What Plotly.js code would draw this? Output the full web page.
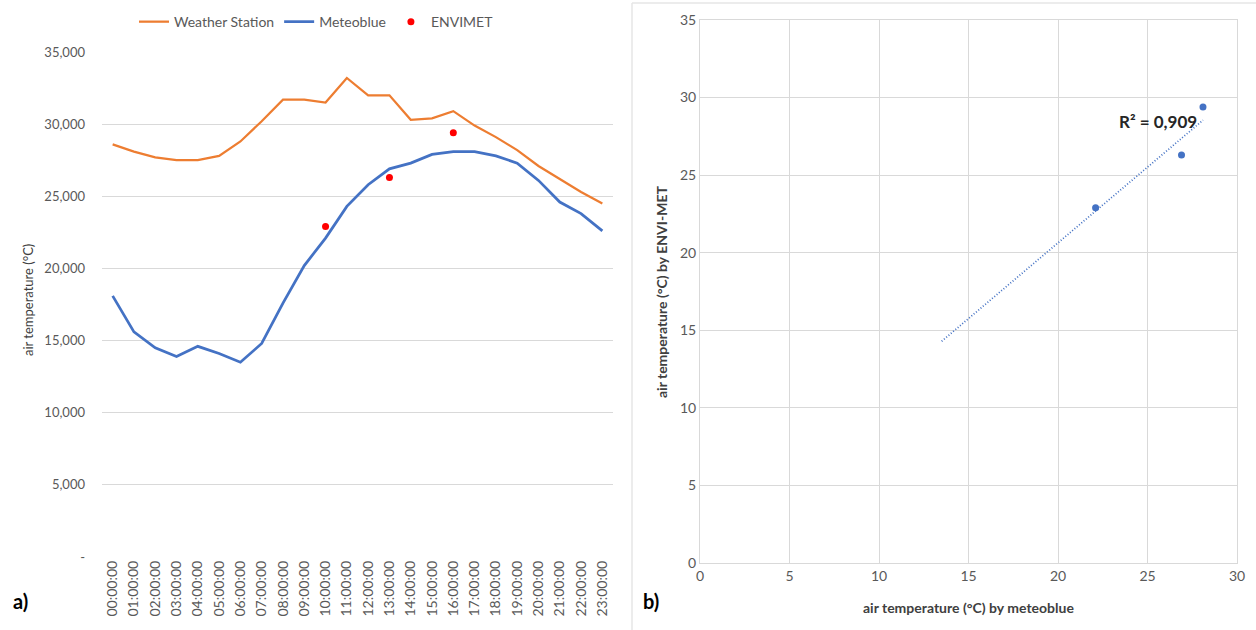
<!DOCTYPE html>
<html><head><meta charset="utf-8">
<script src="https://cdn.plot.ly/plotly-3.0.1.min.js"></script>
<style>html,body{margin:0;padding:0;background:#fff}#chart{width:1256px;height:630px}</style>
</head><body><div id="chart"></div>
<script>
const hours = ['00:00:00','01:00:00','02:00:00','03:00:00','04:00:00','05:00:00','06:00:00','07:00:00',
  '08:00:00','09:00:00','10:00:00','11:00:00','12:00:00','13:00:00','14:00:00','15:00:00',
  '16:00:00','17:00:00','18:00:00','19:00:00','20:00:00','21:00:00','22:00:00','23:00:00'];
const weatherStation = [28.6,28.1,27.7,27.5,27.5,27.8,28.8,30.2,31.7,31.7,31.5,33.2,
  32.0,32.0,30.3,30.4,30.9,29.9,29.1,28.2,27.1,26.2,25.3,24.5];
const meteoblue = [18.1,15.6,14.5,13.9,14.6,14.1,13.5,14.8,17.6,20.2,22.1,24.3,
  25.8,26.9,27.3,27.9,28.1,28.1,27.8,27.3,26.1,24.6,23.8,22.6];
const envimetHours = ['10:00:00','13:00:00','16:00:00'];
const envimet = [22.9,26.3,29.4];
const scatterMeteoblue = [22.1,26.9,28.1];
const scatterEnvimet = [22.9,26.3,29.4];
const trendStartX = 13.5;
const leftTickVals = [0,5,10,15,20,25,30,35];
const leftTickText = ['-','5,000','10,000','15,000','20,000','25,000','30,000','35,000'];
const rightYTicks = [0,5,10,15,20,25,30,35];
const rightXTicks = [0,5,10,15,20,25,30];

// linear regression for trend line
const n = scatterMeteoblue.length;
const mx = scatterMeteoblue.reduce((a,b)=>a+b,0)/n;
const my = scatterEnvimet.reduce((a,b)=>a+b,0)/n;
let sxy=0,sxx=0,syy=0;
for(let i=0;i<n;i++){const dx=scatterMeteoblue[i]-mx, dy=scatterEnvimet[i]-my; sxy+=dx*dy; sxx+=dx*dx; syy+=dy*dy;}
const slope = sxy/sxx, intercept = my - slope*mx;
const r2 = (sxy*sxy)/(sxx*syy);
const trendX = [trendStartX, Math.max(...scatterMeteoblue)];
const trendY = trendX.map(x=>intercept+slope*x);

const FONT = 'Lato, "Open Sans", sans-serif';
const grid = '#d9d9d9';
const tickCol = '#595959';

const traces = [
  {x:hours,y:weatherStation,type:'scatter',mode:'lines',name:'Weather Station',
   line:{color:'#ED7D31',width:2.25},xaxis:'x',yaxis:'y'},
  {x:hours,y:meteoblue,type:'scatter',mode:'lines',name:'Meteoblue',
   line:{color:'#4472C4',width:2.75},xaxis:'x',yaxis:'y'},
  {x:envimetHours,y:envimet,type:'scatter',mode:'markers',name:'ENVIMET',
   marker:{color:'#FF0000',size:7},xaxis:'x',yaxis:'y'},
  {x:trendX,y:trendY,type:'scatter',mode:'lines',showlegend:false,
   line:{color:'#4472C4',width:1.75,dash:'1px,2px'},xaxis:'x2',yaxis:'y2'},
  {x:scatterMeteoblue,y:scatterEnvimet,type:'scatter',mode:'markers',showlegend:false,
   marker:{color:'#4472C4',size:7},xaxis:'x2',yaxis:'y2'}
];

const layout = {
  width:1256,height:630,margin:{l:0,r:0,t:0,b:0},
  paper_bgcolor:'#fff',plot_bgcolor:'rgba(0,0,0,0)',
  font:{family:FONT,color:tickCol,size:12},
  showlegend:true,
  legend:{orientation:'h',x:0.252,xanchor:'center',y:0.965,yanchor:'middle',
    font:{size:14,color:tickCol},itemwidth:30,tracegroupgap:0},
  xaxis:{domain:[102/1256,613/1256],type:'category',range:[-0.5,23.5],
    tickangle:-90,showgrid:false,zeroline:false,showline:false,ticks:'',
    tickfont:{size:14,color:tickCol},anchor:'y',fixedrange:true},
  yaxis:{domain:[(630-557)/630,(630-52)/630],range:[0,35],tickvals:leftTickVals,
    ticktext:leftTickText,showgrid:true,gridcolor:grid,gridwidth:1,zeroline:false,
    showline:false,ticks:'',tickfont:{size:13,color:tickCol},ticklabelstandoff:16,
    anchor:'x',fixedrange:true},
  xaxis2:{domain:[700/1256,1237/1256],range:[0,30],tickvals:rightXTicks,
    showgrid:true,gridcolor:grid,zeroline:false,showline:true,linecolor:grid,mirror:true,
    ticks:'',tickfont:{size:14,color:tickCol},anchor:'y2',fixedrange:true},
  yaxis2:{domain:[(630-563)/630,(630-20)/630],range:[0,35],tickvals:rightYTicks,
    showgrid:true,gridcolor:grid,zeroline:false,showline:true,linecolor:grid,mirror:true,
    ticks:'',tickfont:{size:14,color:tickCol},anchor:'x2',fixedrange:true},
  shapes:[
    {type:'line',xref:'paper',yref:'paper',x0:632/1256,x1:632/1256,y0:0,y1:1-3/630,
     line:{color:'#e6e6e6',width:1.5}},
    {type:'line',xref:'paper',yref:'paper',x0:632/1256,x1:1,y0:1-3/630,y1:1-3/630,
     line:{color:'#e6e6e6',width:1.5}}
  ],
  annotations:[
    {xref:'paper',yref:'paper',x:28/1256,y:1-300/630,xanchor:'center',yanchor:'middle',
     text:'air temperature (°C)',textangle:-90,showarrow:false,font:{size:13,color:'#404040'}},
    {xref:'paper',yref:'paper',x:661/1256,y:1-292/630,xanchor:'center',yanchor:'middle',
     text:'<b>air temperature (°C) by ENVI-MET</b>',textangle:-90,showarrow:false,
     font:{size:14,color:'#404040'}},
    {xref:'paper',yref:'paper',x:968/1256,y:1-607/630,xanchor:'center',yanchor:'middle',
     text:'<b>air temperature (°C) by meteoblue</b>',showarrow:false,font:{size:14,color:'#404040'}},
    {xref:'x2',yref:'y2',x:25.6,y:28.43,xanchor:'center',yanchor:'middle',
     text:'<b>R² = '+r2.toFixed(3).replace('.',',')+'</b>',
     showarrow:false,font:{size:17,color:'#262626'}},
    {xref:'paper',yref:'paper',x:20/1256,y:1-601/630,xanchor:'center',yanchor:'middle',
     text:'<b>a)</b>',showarrow:false,font:{size:20,color:'#000'}},
    {xref:'paper',yref:'paper',x:651/1256,y:1-601/630,xanchor:'center',yanchor:'middle',
     text:'<b>b)</b>',showarrow:false,font:{size:20,color:'#000'}}
  ]
};
Plotly.newPlot('chart',traces,layout,{displayModeBar:false,staticPlot:true});
</script></body></html>
